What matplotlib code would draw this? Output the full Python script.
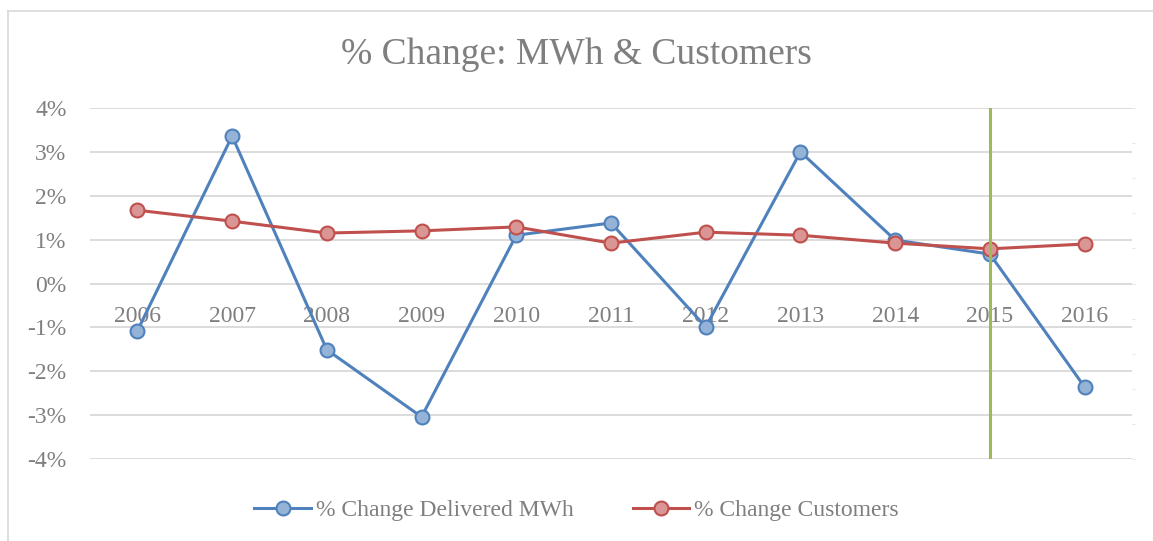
import matplotlib.pyplot as plt
from matplotlib.lines import Line2D
import numpy as np

years = ['2006', '2007', '2008', '2009', '2010', '2011', '2012', '2013', '2014', '2015', '2016']
mwh_change = [-1.08, 3.36, -1.51, -3.04, 1.10, 1.38, -0.99, 3.00, 0.99, 0.67, -2.36]
cust_change = [1.67, 1.42, 1.15, 1.20, 1.29, 0.92, 1.17, 1.10, 0.92, 0.79, 0.90]
marker_year = '2015'
yticks = [-4, -3, -2, -1, 0, 1, 2, 3, 4]

grey = '#7F7F7F'
plt.rcParams['font.family'] = ['Liberation Serif', 'DejaVu Serif']

fig = plt.figure(figsize=(11.53, 5.41), dpi=100)
ax = fig.add_axes([90/1153, 1-459/541, (1132-90)/1153, (459-108)/541])

x = np.arange(len(years))

# light frame, only top and left edges show
fig.add_artist(Line2D([8/1153, 1], [1-11/541, 1-11/541], color='#D9D9D9', lw=1.2))
fig.add_artist(Line2D([8/1153, 8/1153], [0, 1-11/541], color='#D9D9D9', lw=1.2))

ax.plot(x, mwh_change, color='#4F81BD', lw=2.2, marker='o', ms=10,
        mfc='#95B3D7', mec='#4F81BD', mew=1.5, zorder=4, label='% Change Delivered MWh')
ax.plot(x, cust_change, color='#C0504D', lw=2.2, marker='o', ms=10,
        mfc='#D99694', mec='#C0504D', mew=1.5, zorder=4, label='% Change Customers')
ax.axvline(years.index(marker_year), color='#9BBB59', lw=2.2, zorder=5)

ax.set_xlim(-0.5, len(years) - 0.5)
ax.set_ylim(-4, 4)
ax.set_yticks(yticks)
ax.set_yticklabels([f'{v}%' for v in yticks])
ax.set_xticks(x)
ax.set_xticklabels(years)

ax.grid(axis='y', color='#D9D9D9', lw=1.3)
ax.set_axisbelow(True)
for s in ax.spines.values():
    s.set_visible(False)
ax.spines['bottom'].set_position(('data', 0))
ax.tick_params(axis='x', length=0, pad=16, labelsize=17, labelcolor=grey)
ax.tick_params(axis='y', length=0, pad=17, labelsize=17, labelcolor=grey)

# faint secondary axis on the right
ax2 = ax.twinx()
ax2.set_ylim(0, 10)
ax2.set_yticks(range(11))
ax2.tick_params(axis='y', length=2, color='#E6E6E6', labelright=False)
for s in ax2.spines.values():
    s.set_visible(False)

fig.text(0.5, 1-55/541, '% Change: MWh & Customers', ha='center', va='center',
         fontsize=27, color=grey)

fig.legend(loc='center', bbox_to_anchor=(0.5, 1-510/541), ncol=2, frameon=False,
           fontsize=17, labelcolor=grey, handlelength=2.4, columnspacing=2.5,
           handletextpad=0.2)

fig.savefig('out.png', dpi=100)
